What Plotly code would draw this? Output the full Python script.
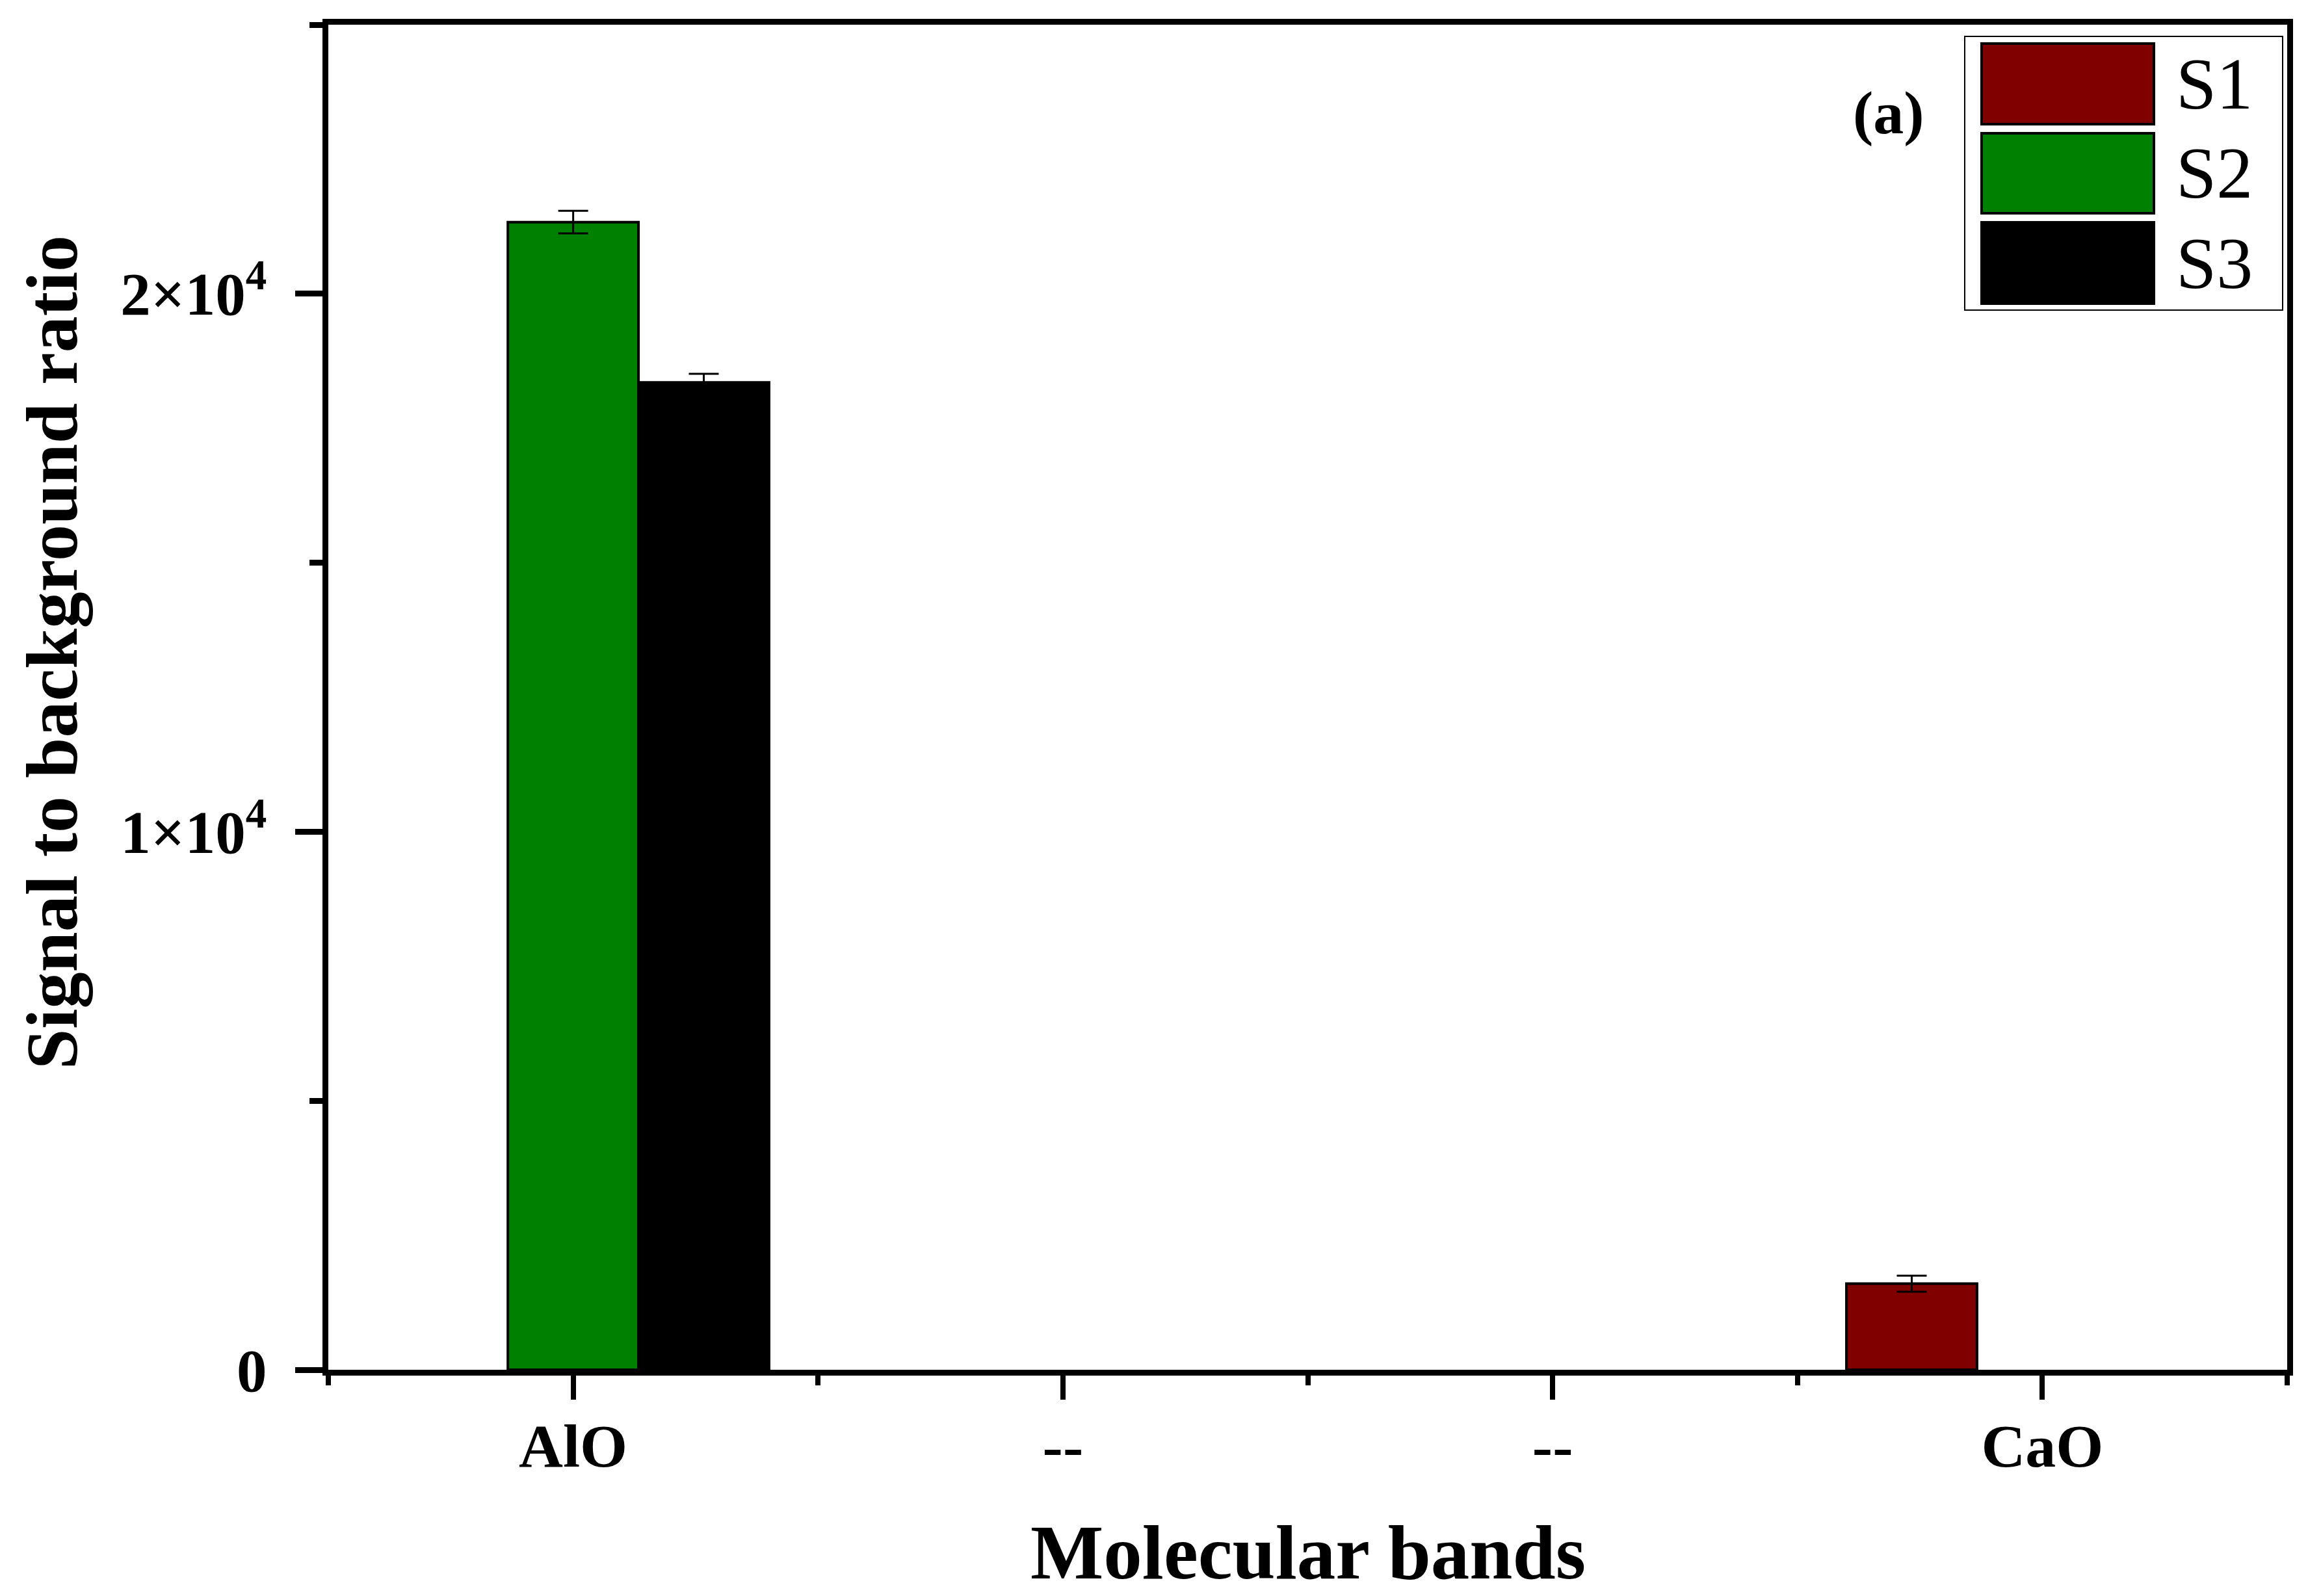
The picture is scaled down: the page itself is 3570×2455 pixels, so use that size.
import plotly.graph_objects as go

# ---- data ----
categories = ["AlO", "--", "--", "CaO"]
series_names = ["S1", "S2", "S3"]
series_colors = ["#800000", "#008000", "#000000"]
s1_values = [None, None, None, 1600]
s1_errors = [0, 0, 0, 150]
s2_values = [21330, None, None, None]
s2_errors = [210, 0, 0, 0]
s3_values = [18350, None, None, None]
s3_errors = [160, 0, 0, 0]
y_tick_values = [0, 10000, 20000]
y_tick_labels = ["0", "1×10<sup>4</sup>", "2×10<sup>4</sup>"]
y_minor_values = [5000, 15000, 25000]
x_positions = list(range(len(categories)))
x_minor_values = [-0.5, 0.5, 1.5, 2.5, 3.5]

FONT = "Liberation Serif"
FIG_W, FIG_H = 3570, 2455
L, R, T, B = 505, 3518, 38, 2107  # plot area in pixels
PW, PH = R - L, B - T


def px(x):
    return (x - L) / PW


def py(y):
    return (B - y) / PH


fig = go.Figure()
for name, vals, errs, col in zip(series_names,
                                 [s1_values, s2_values, s3_values],
                                 [s1_errors, s2_errors, s3_errors],
                                 series_colors):
    fig.add_trace(go.Bar(
        x=x_positions, y=vals, name=name,
        marker=dict(color=col, line=dict(color="black", width=4)),
        error_y=dict(type="data", array=errs, visible=True,
                     color="black", thickness=3, width=23),
        showlegend=False,
    ))

axis_common = dict(showgrid=False, zeroline=False, showline=True,
                   linecolor="black", linewidth=9, mirror=True,
                   ticks="outside", tickcolor="black")

fig.update_layout(
    width=FIG_W, height=FIG_H,
    margin=dict(l=L, r=FIG_W - R, t=T, b=FIG_H - B, pad=0),
    paper_bgcolor="white", plot_bgcolor="white",
    barmode="group", bargap=0.2, bargroupgap=0,
    xaxis=dict(**axis_common, range=[-0.5, 3.5],
               tickmode="array", tickvals=x_positions, ticktext=categories,
               ticklen=37, tickwidth=8,
               minor=dict(tickmode="array", tickvals=x_minor_values,
                          ticklen=15, tickwidth=8, ticks="outside",
                          tickcolor="black"),
               tickfont=dict(family=FONT, size=94, color="black", weight="bold"),
               ticklabelstandoff=-10),
    yaxis=dict(**axis_common, range=[0, 25000],
               tickmode="array", tickvals=y_tick_values, ticktext=y_tick_labels,
               ticklen=42, tickwidth=9,
               minor=dict(tickmode="array", tickvals=y_minor_values,
                          ticklen=20, tickwidth=9, ticks="outside",
                          tickcolor="black"),
               tickfont=dict(family=FONT, size=93, color="black", weight="bold"),
               ticklabelstandoff=25),
)

# axis titles and panel label
fig.add_annotation(text="Molecular bands", xref="paper", yref="paper",
                   x=px(2012), y=py(2388), xanchor="center", yanchor="middle",
                   showarrow=False,
                   font=dict(family=FONT, size=119, color="black", weight="bold"))
fig.add_annotation(text="Signal to background ratio", xref="paper", yref="paper",
                   x=px(80), y=py(1004), xanchor="center", yanchor="middle",
                   textangle=-90, showarrow=False,
                   font=dict(family=FONT, size=112, color="black", weight="bold"))
fig.add_annotation(text="(a)", xref="paper", yref="paper",
                   x=px(2905), y=py(173), xanchor="center", yanchor="middle",
                   showarrow=False,
                   font=dict(family=FONT, size=94, color="black", weight="bold"))

# custom legend
fig.add_shape(type="rect", xref="paper", yref="paper",
              x0=px(3022), x1=px(3511), y0=py(477), y1=py(56),
              line=dict(color="black", width=2), fillcolor="white", layer="above")
sw_y = [(67, 191), (205, 328), (342, 467)]
for name, col, (ya, yb) in zip(series_names, series_colors, sw_y):
    fig.add_shape(type="rect", xref="paper", yref="paper",
                  x0=px(3048), x1=px(3313), y0=py(yb), y1=py(ya),
                  line=dict(color="black", width=4), fillcolor=col, layer="above")
    fig.add_annotation(text=name, xref="paper", yref="paper",
                       x=px(3345), y=py((ya + yb) / 2), xanchor="left",
                       yanchor="middle", showarrow=False,
                       font=dict(family=FONT, size=112, color="black"))

fig.write_html("out.html", config={"displayModeBar": False},
               post_script="document.body.style.margin='0';")
